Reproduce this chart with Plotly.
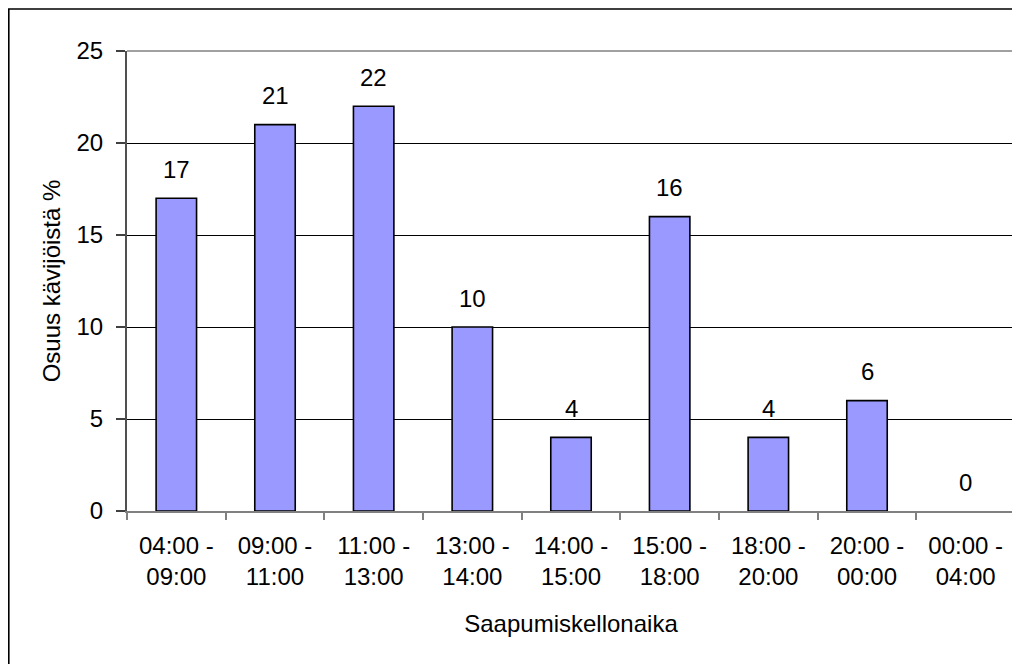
import plotly.graph_objects as go

categories = ["04:00 - 09:00", "09:00 - 11:00", "11:00 - 13:00", "13:00 - 14:00",
              "14:00 - 15:00", "15:00 - 18:00", "18:00 - 20:00", "20:00 - 00:00",
              "00:00 - 04:00"]
values = [17, 21, 22, 10, 4, 16, 4, 6, 0]
y_ticks = [0, 5, 10, 15, 20, 25]
x_title = "Saapumiskellonaika"
y_title = "Osuus kävijöistä %"

FONT = "Liberation Sans, Arial, sans-serif"
W, H = 1020, 664
ML, MR, MT, MB = 119, 13, 43, 161
PW, PH = W - ML - MR, H - MT - MB

ticktext = [c.replace(" - ", " -<br>") for c in categories]

fig = go.Figure()
fig.add_trace(go.Bar(
    x=categories, y=values, width=0.41,
    marker=dict(color="#9999FF",
                line=dict(color="black", width=[1.6 if v > 0 else 0 for v in values])),
    hoverinfo="skip",
))

for c, v in zip(categories, values):
    fig.add_annotation(x=c, y=v, text=str(v), showarrow=False,
                       yanchor="middle", yshift=29,
                       font=dict(family=FONT, size=24, color="black"))

def px_to_paper_x(px):
    return (px - ML) / PW

def px_to_paper_y(py):
    return (H - MB - py) / PH

# plot area top and right borders (grey)
fig.add_shape(type="line", xref="paper", yref="paper", x0=0, x1=1, y0=1, y1=1,
              line=dict(color="#A0A0A0", width=2))
fig.add_shape(type="line", xref="paper", yref="paper", x0=1, x1=1, y0=0, y1=1,
              line=dict(color="#A0A0A0", width=2))
# outer chart border
fig.add_shape(type="rect", xref="paper", yref="paper",
              x0=px_to_paper_x(0.8), x1=px_to_paper_x(1030),
              y0=px_to_paper_y(680), y1=px_to_paper_y(1.0),
              line=dict(color="black", width=1.6), fillcolor="rgba(0,0,0,0)")

fig.update_layout(
    width=W, height=H,
    margin=dict(l=ML, r=MR, t=MT, b=MB, pad=0, autoexpand=False),
    paper_bgcolor="white", plot_bgcolor="white",
    showlegend=False,
    font=dict(family=FONT, size=24, color="black"),
    xaxis=dict(
        type="category", automargin=False,
        tickvals=categories, ticktext=ticktext,
        tickson="boundaries", ticks="outside", ticklen=7, tickcolor="#808080", tickwidth=1.5,
        ticklabelstandoff=12,
        showline=True, linecolor="#808080", linewidth=2,
        showgrid=False, zeroline=False,
        tickfont=dict(family=FONT, size=24, color="black"),
        title=dict(text=x_title, font=dict(family=FONT, size=24, color="black"), standoff=26),
    ),
    yaxis=dict(
        range=[0, 25], tickvals=y_ticks, automargin=False,
        ticks="outside", ticklen=9, tickcolor="#404040", tickwidth=1.5,
        ticklabelstandoff=8,
        showline=True, linecolor="#505050", linewidth=2,
        showgrid=True, gridcolor="black", gridwidth=1,
        zeroline=False,
        tickfont=dict(family=FONT, size=24, color="black"),
        title=dict(text=y_title, font=dict(family=FONT, size=24, color="black"), standoff=9),
    ),
)

fig.write_html("out.html")
